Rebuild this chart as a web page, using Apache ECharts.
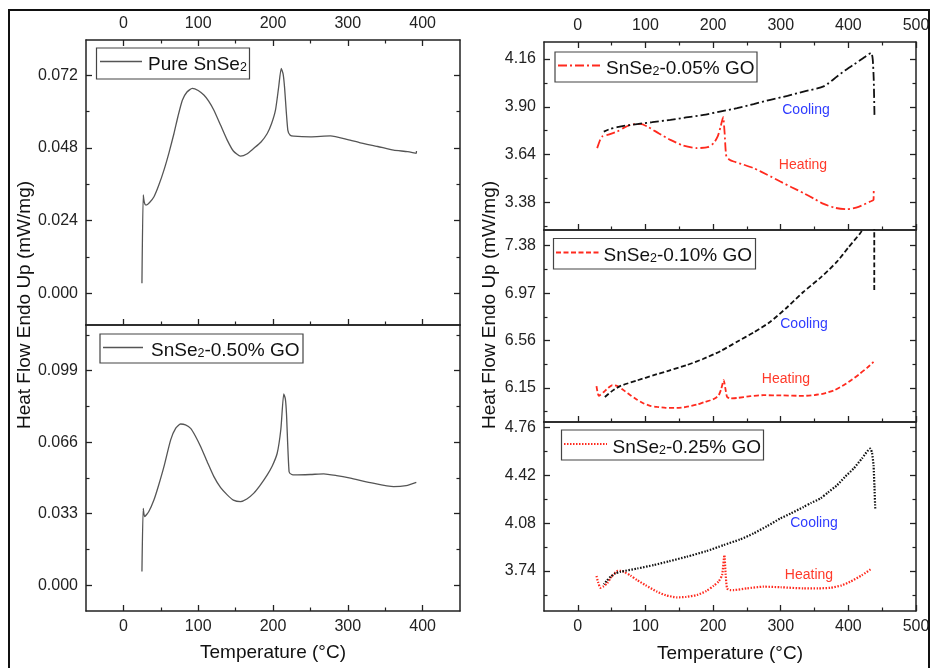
<!DOCTYPE html>
<html><head><meta charset="utf-8">
<script src="https://cdn.jsdelivr.net/npm/echarts@6/dist/echarts.min.js"></script>
<style>html,body{margin:0;padding:0;background:#fff}#c{width:933px;height:668px}</style>
</head><body><div id="c"></div><script>
const FONT = '"Liberation Sans", Arial, sans-serif';

// ---- tick values ----
const leftXTicks = [0, 100, 200, 300, 400];
const leftXMinor = [50, 150, 250, 350];
const rightXTicks = [0, 100, 200, 300, 400, 500];
const rightXMinor = [50, 150, 250, 350, 450];
const pureYTicks = [0, 0.024, 0.048, 0.072];
const pureYMinor = [0.012, 0.036, 0.060];
const go50YTicks = [0, 0.033, 0.066, 0.099];
const go50YMinor = [0.0165, 0.0495, 0.0825, 0.1155];
const go05YTicks = [3.38, 3.64, 3.90, 4.16];
const go05YMinor = [3.25, 3.51, 3.77, 4.03];
const go10YTicks = [6.15, 6.56, 6.97, 7.38];
const go10YMinor = [5.945, 6.355, 6.765, 7.175];
const go25YTicks = [3.74, 4.08, 4.42, 4.76];
const go25YMinor = [3.57, 3.91, 4.25, 4.59];

// ---- Pure SnSe2 ----
const pureT = [24.8,26.5,28.0,30.2,35,40.9,47,54.2,61,67.6,73,78.8,85,92.1,100,107.6,114,121,130,138.8,147,156.6,165,174.4,184,192.3,198,203.3,207.5,211,213.5,215.4,219.8,223,227.8,250,276.8,300,316.8,340,361.3,380,391.6,391.8];
const pureV = [0.0033,0.0325,0.0300,0.0291,0.0300,0.0319,0.0355,0.0407,0.0465,0.0528,0.0585,0.0638,0.0665,0.0677,0.0670,0.0655,0.0635,0.0605,0.0555,0.0506,0.0470,0.0453,0.0460,0.0479,0.0500,0.0528,0.0560,0.0605,0.0680,0.0743,0.0725,0.0682,0.0539,0.0522,0.0519,0.0517,0.0520,0.0508,0.0497,0.0485,0.0473,0.0468,0.0462,0.0470];

// ---- SnSe2-0.50% GO ----
const go50T = [24.8,26.5,28.4,34,40.9,47,54.2,63.2,70,76.5,83,89.9,96,103.2,112,121,130,138.8,147,156.6,165,174.4,183,192.3,199,205.6,210.5,214.4,216.5,218,221.5,225,229.9,250,267.8,285,303.5,330,361.3,378,391.6];
const go50V = [0.0063,0.0355,0.0317,0.0340,0.0394,0.0460,0.0547,0.0671,0.0725,0.0744,0.0740,0.0724,0.0690,0.0640,0.0570,0.0501,0.0450,0.0417,0.0393,0.0386,0.0398,0.0425,0.0462,0.0509,0.0550,0.0609,0.0720,0.0883,0.0860,0.0794,0.0524,0.0511,0.0509,0.0511,0.0514,0.0506,0.0494,0.0474,0.0455,0.0460,0.0475];

// ---- SnSe2-0.05% GO ----
const go05HeatT = [28.6,33,36,45,58.2,68,77.8,92.6,102.5,120,136.9,155,176.4,192,200.9,207,211,214.8,217,219.6,225,230.4,245,260,280,299.4,316,333.8,350,363.4,380,397.9,415,432.3,437.2,437.5];
const go05HeatV = [3.675,3.720,3.738,3.748,3.765,3.785,3.802,3.807,3.793,3.755,3.720,3.690,3.675,3.680,3.702,3.740,3.790,3.844,3.760,3.629,3.610,3.602,3.585,3.566,3.530,3.493,3.462,3.430,3.398,3.371,3.350,3.342,3.355,3.384,3.393,3.457];
const go05CoolT = [438.6,437.5,436,433.8,420,407.7,395,383.2,363.4,333.8,310,284.6,260,235.4,210,186.1,160,136.9,110,87.7,70,58.2,48,38.4];
const go05CoolV = [3.856,4.050,4.160,4.193,4.160,4.129,4.098,4.065,4.011,3.983,3.960,3.938,3.915,3.893,3.874,3.856,3.842,3.829,3.816,3.806,3.797,3.789,3.780,3.765];

// ---- SnSe2-0.10% GO ----
const go10HeatT = [27.6,31,38.4,45,50.8,55,60.6,70,77.8,87,97.5,107,117.3,130,146.8,160,176.4,186,196,203,208.3,212,215.7,218,220.7,225,235.4,255,274.8,300,333.8,350,363.4,380,392.9,405,417.5,428,437.2];
const go10HeatV = [6.165,6.081,6.115,6.150,6.173,6.172,6.159,6.120,6.087,6.050,6.015,5.995,5.985,5.978,5.977,5.985,6.006,6.025,6.043,6.060,6.087,6.140,6.217,6.150,6.072,6.060,6.063,6.078,6.087,6.085,6.081,6.088,6.101,6.132,6.173,6.220,6.275,6.325,6.375];
const go10CoolT = [438.3,438.3,438.3,432,425,417.5,400,383.2,360,333.8,310,284.6,260,235.4,210.8,185,161,135,112.3,88,63.1,50,38.4];
const go10CoolV = [6.997,7.300,7.600,7.620,7.560,7.488,7.365,7.242,7.110,6.982,6.850,6.722,6.630,6.549,6.468,6.400,6.347,6.300,6.260,6.215,6.167,6.120,6.063];

// ---- SnSe2-0.25% GO ----
const go25HeatT = [27.6,30,33.5,38,43.4,50,58.2,63,68,78,87.7,100,117.3,130,146.8,160,176.4,190,201,208,213.3,216.7,218.5,220.7,225,230.5,250,274.8,300,333.8,355,373.1,390,402.7,420,434.9];
const go25HeatV = [3.705,3.660,3.621,3.632,3.653,3.700,3.740,3.742,3.735,3.708,3.676,3.640,3.593,3.568,3.553,3.556,3.570,3.598,3.636,3.665,3.712,3.854,3.720,3.617,3.605,3.605,3.617,3.629,3.625,3.617,3.617,3.621,3.638,3.664,3.710,3.759];
const go25CoolT = [439.7,438.5,437.2,435,432.3,420,407.7,395,383.2,370,358.6,345,333.8,315,299.4,280,260,240,215.7,190,161,135,112.3,88,63.1,55,48.4,43,38.4];
const go25CoolV = [4.185,4.350,4.492,4.580,4.611,4.540,4.469,4.410,4.350,4.300,4.256,4.225,4.196,4.150,4.114,4.060,4.008,3.965,3.925,3.882,3.842,3.810,3.783,3.758,3.735,3.722,3.700,3.672,3.646];

const zip = (a, b) => a.map((t, i) => [t, b[i]]);

const RED = '#ff2a1e', BLK = '#111', GRAY = '#555';
const DASHDOT = [9, 3, 2, 3], DASHED = [5, 2.5], DOTTED = [1.5, 1.5];

const panels = [
  {box:{left:86,top:40,width:374,height:285}, x:[-50,450], xt:leftXTicks, xm:leftXMinor, y:[-0.0105,0.0837], yt:pureYTicks, ym:pureYMinor, dec:3, topLbl:true, botLbl:false, topTicks:true,
   series:[{d:zip(pureT,pureV), c:GRAY, w:1.3, t:'solid'}]},
  {box:{left:86,top:325,width:374,height:286}, x:[-50,450], xt:leftXTicks, xm:leftXMinor, y:[-0.0119,0.1201], yt:go50YTicks, ym:go50YMinor, dec:3, topLbl:false, botLbl:true, topTicks:false,
   series:[{d:zip(go50T,go50V), c:GRAY, w:1.3, t:'solid'}]},
  {box:{left:544,top:42,width:372,height:188}, x:[-50,500], xt:rightXTicks, xm:rightXMinor, y:[3.229,4.253], yt:go05YTicks, ym:go05YMinor, dec:2, topLbl:true, botLbl:false, topTicks:true,
   series:[{d:zip(go05HeatT,go05HeatV), c:RED, w:1.8, t:DASHDOT},{d:zip(go05CoolT,go05CoolV), c:BLK, w:1.8, t:DASHDOT}]},
  {box:{left:544,top:230,width:372,height:192}, x:[-50,500], xt:rightXTicks, xm:rightXMinor, y:[5.855,7.516], yt:go10YTicks, ym:go10YMinor, dec:2, topLbl:false, botLbl:false, topTicks:false,
   series:[{d:zip(go10HeatT,go10HeatV), c:RED, w:1.8, t:DASHED},{d:zip(go10CoolT,go10CoolV), c:BLK, w:1.8, t:DASHED}]},
  {box:{left:544,top:422,width:372,height:189}, x:[-50,500], xt:rightXTicks, xm:rightXMinor, y:[3.456,4.800], yt:go25YTicks, ym:go25YMinor, dec:2, topLbl:false, botLbl:true, topTicks:false,
   series:[{d:zip(go25HeatT,go25HeatV), c:RED, w:2.2, t:DOTTED},{d:zip(go25CoolT,go25CoolV), c:BLK, w:2.2, t:DOTTED}]}
];

const grid = [], xAxis = [], yAxis = [], series = [];
const AX = '#222';
const lbl = (show, vals, fmt) => ({show, customValues: vals, margin: 8, fontSize: 16, color: '#222', fontFamily: FONT, formatter: fmt});
panels.forEach((p, i) => {
  grid.push(Object.assign({}, p.box));
  grid.push(Object.assign({}, p.box));
  const gM = 2 * i, gm = 2 * i + 1;
  const line = {show: true, onZero: false, lineStyle: {color: AX, width: 1.5}};
  const noLine = {show: false, onZero: false};
  const majT = (show, vals) => ({show, inside: true, length: 6, customValues: vals, lineStyle: {color: AX, width: 1.3}});
  const minT = (show, vals) => ({show, inside: true, length: 3.5, customValues: vals, lineStyle: {color: AX, width: 1.2}});
  const xf = v => String(v);
  const yf = v => v.toFixed(p.dec);
  const base = (g, min, max) => ({type: 'value', gridIndex: g, min, max, splitLine: {show: false}});
  xAxis.push(Object.assign(base(gM, p.x[0], p.x[1]), {position: 'bottom', axisLine: line, axisTick: majT(true, p.xt), axisLabel: lbl(p.botLbl, p.xt, xf)}));
  xAxis.push(Object.assign(base(gM, p.x[0], p.x[1]), {position: 'top', axisLine: line, axisTick: majT(p.topTicks, p.xt), axisLabel: lbl(p.topLbl, p.xt, xf)}));
  yAxis.push(Object.assign(base(gM, p.y[0], p.y[1]), {position: 'left', axisLine: line, axisTick: majT(true, p.yt), axisLabel: lbl(true, p.yt, yf)}));
  yAxis.push(Object.assign(base(gM, p.y[0], p.y[1]), {position: 'right', axisLine: line, axisTick: majT(true, p.yt), axisLabel: {show: false}}));
  xAxis.push(Object.assign(base(gm, p.x[0], p.x[1]), {position: 'bottom', axisLine: noLine, axisTick: minT(true, p.xm), axisLabel: {show: false}}));
  xAxis.push(Object.assign(base(gm, p.x[0], p.x[1]), {position: 'top', axisLine: noLine, axisTick: minT(p.topTicks, p.xm), axisLabel: {show: false}}));
  yAxis.push(Object.assign(base(gm, p.y[0], p.y[1]), {position: 'left', axisLine: noLine, axisTick: minT(true, p.ym), axisLabel: {show: false}}));
  yAxis.push(Object.assign(base(gm, p.y[0], p.y[1]), {position: 'right', axisLine: noLine, axisTick: minT(true, p.ym), axisLabel: {show: false}}));
  p.series.forEach(s => {
    series.push({type: 'line', xAxisIndex: 4 * i, yAxisIndex: 4 * i, data: s.d, showSymbol: false, smooth: 0.2, clip: true,
      lineStyle: {color: s.c, width: s.w, type: s.t}, silent: true});
  });
});

const rich = {
  a: {fontSize: 19, fontFamily: FONT, fill: '#111', lineHeight: 24, verticalAlign: 'bottom'},
  s: {fontSize: 12.5, fontFamily: FONT, fill: '#111', lineHeight: 12, padding: [9, 0, 0, 0], verticalAlign: 'bottom'}
};
function legend(bx, by, bw, bh, lx1, lx2, ly, tx, text, color, width, dash) {
  return [
    {type: 'rect', shape: {x: bx, y: by, width: bw, height: bh}, style: {fill: '#fff', stroke: '#444', lineWidth: 1.2}, z: 100},
    {type: 'line', shape: {x1: lx1, y1: ly, x2: lx2, y2: ly}, style: {stroke: color, lineWidth: width, lineDash: dash}, z: 101},
    {type: 'text', x: tx, y: ly + 1, style: {text, rich, align: 'left', verticalAlign: 'middle'}, z: 101}
  ];
}
const ann = (x, y, text, color) => ({type: 'text', x, y, style: {text, fontSize: 14, fontFamily: FONT, fill: color, align: 'center', verticalAlign: 'middle'}, z: 100});
const BLUE = '#2f3cff', HRED = '#ff3a2a';

const graphic = [
  {type: 'rect', shape: {x: 9, y: 10, width: 920, height: 690}, style: {fill: 'none', stroke: '#111', lineWidth: 2}, z: 50},
  ...legend(96.5, 48, 153, 31, 100, 142, 61.5, 148, '{a|Pure SnSe}{s|2}', GRAY, 1.3, null),
  ...legend(100, 334, 203, 29, 103, 143, 347.5, 151, '{a|SnSe}{s|2}{a|-0.50% GO}', GRAY, 1.3, null),
  ...legend(555, 52, 202, 30, 558, 600, 65.5, 606, '{a|SnSe}{s|2}{a|-0.05% GO}', RED, 1.8, DASHDOT),
  ...legend(553.5, 238.5, 202, 30.5, 556, 600, 252.5, 603.5, '{a|SnSe}{s|2}{a|-0.10% GO}', RED, 1.8, DASHED),
  ...legend(561.5, 430, 202, 30, 564, 607, 444, 612.5, '{a|SnSe}{s|2}{a|-0.25% GO}', RED, 2.2, DOTTED),
  ann(806, 110, 'Cooling', BLUE), ann(803, 165, 'Heating', HRED),
  ann(804, 324, 'Cooling', BLUE), ann(786, 379, 'Heating', HRED),
  ann(814, 523, 'Cooling', BLUE), ann(809, 575, 'Heating', HRED),
  {type: 'text', x: 25, y: 305, rotation: Math.PI / 2, style: {text: 'Heat Flow Endo Up (mW/mg)', fontSize: 19, fontFamily: FONT, fill: '#111', align: 'center', verticalAlign: 'middle'}},
  {type: 'text', x: 490, y: 305, rotation: Math.PI / 2, style: {text: 'Heat Flow Endo Up (mW/mg)', fontSize: 19, fontFamily: FONT, fill: '#111', align: 'center', verticalAlign: 'middle'}},
  {type: 'text', x: 273, y: 653, style: {text: 'Temperature (°C)', fontSize: 19, fontFamily: FONT, fill: '#111', align: 'center', verticalAlign: 'middle'}},
  {type: 'text', x: 730, y: 654, style: {text: 'Temperature (°C)', fontSize: 19, fontFamily: FONT, fill: '#111', align: 'center', verticalAlign: 'middle'}}
];

const chart = echarts.init(document.getElementById('c'), null, {renderer: 'canvas'});
chart.setOption({animation: false, backgroundColor: '#fff', grid, xAxis, yAxis, series, graphic});
</script></body></html>
